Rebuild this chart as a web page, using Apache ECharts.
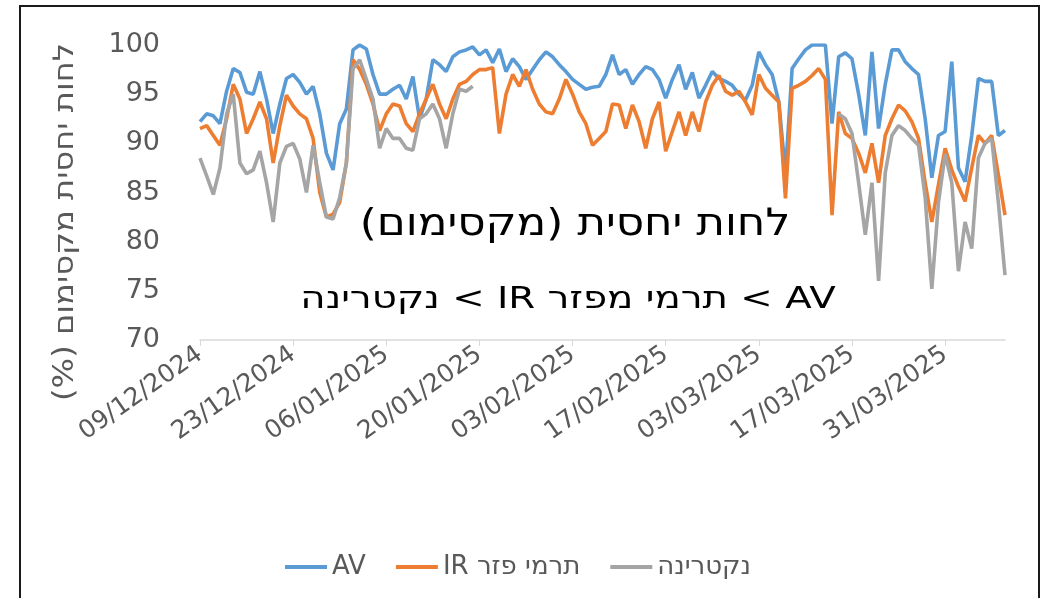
<!DOCTYPE html>
<html>
<head>
<meta charset="utf-8">
<script src="https://cdn.jsdelivr.net/npm/echarts@6/dist/echarts.min.js"></script>
<style>
html,body{margin:0;padding:0;background:#fff;}
#c{width:1046px;height:598px;}
</style>
</head>
<body>
<div id="c" dir="rtl"></div>
<script>
// x categories: daily dates from 09/12/2024, 122 days
const startDate = [2024, 12, 9];
const dayCount = 122;
const yTicks = [70, 75, 80, 85, 90, 95, 100];
const seriesNames = ['AV', 'תרמי פזר IR', 'נקטרינה'];
const chartTitle = 'לחות יחסית (מקסימום)';
const chartSubtitle = 'AV > תרמי מפזר IR > נקטרינה';
const yAxisName = 'לחות יחסית מקסימום (%)';

const avValues = [
  92.2, 93, 92.8, 92, 95.3, 97.6, 97.2, 95.2, 95, 97.3, 94.5, 91, 94, 96.6, 97, 96.2, 95, 95.8, 93, 89, 87.3, 92, 93.5, 99.5, 100, 99.6, 97, 95, 95, 95.5,
  95.9, 94.5, 96.8, 92.5, 94.5, 98.5, 98, 97.3, 98.8, 99.3, 99.5, 99.8, 99, 99.5, 98.2, 99.6, 97.3, 98.6, 97.8, 96.5, 97.5, 98.5, 99.3, 98.8, 98, 97.3, 96.5, 96, 95.5, 95.7, 95.8,
  97, 99, 97, 97.5, 96, 97, 97.8, 97.5, 96.5, 94.6, 96.5, 98, 95.5, 97.2, 94.6, 95.9, 97.3, 96.6, 96.3, 95.9, 95, 94.4, 95.9, 99.3, 98, 97, 94.2, 87, 97.6, 98.6, 99.5,
  100, 100, 100, 92, 98.8, 99.2, 98.6, 95, 90.8, 99.3, 91.5, 96, 99.5, 99.5, 98.3, 97.6, 97, 92.5, 86.5, 90.8, 91.2, 98.3, 87.5, 86.1, 90.8, 96.6, 96.3, 96.3, 90.8, 91.3
];
const irValues = [
  91.5, 91.8, 90.8, 89.8, 92.5, 96, 94.5, 91, 92.5, 94.2, 92.5, 88, 91.8, 94.9, 93.8, 93, 92.5, 90.5, 85, 82.5, 82.8, 84, 88, 98.5, 97.5, 96, 94, 91.3, 93, 94,
  93.8, 92, 91.2, 93, 94.5, 96, 94, 92.5, 94.5, 96, 96.3, 97, 97.5, 97.5, 97.7, 91, 95, 97, 95.8, 97.5, 95.5, 94, 93.2, 93, 94.5, 96.5, 95, 93.2, 92, 89.8, 90.5,
  91.2, 94, 93.9, 91.5, 93.9, 92.2, 89.5, 92.5, 94.2, 89.2, 91.2, 93.2, 90.8, 93.2, 91.2, 94.2, 95.9, 96.9, 95.3, 94.9, 95.3, 94.2, 92.9, 97, 95.6, 94.9, 94.2, 84.4, 95.6, 95.9, 96.3,
  96.9, 97.6, 96.5, 82.7, 93.2, 91, 90.5, 89, 87, 90, 86, 90.8, 92.5, 93.9, 93.3, 92.2, 90.5, 86, 82, 85.8, 89.5, 87.3, 85.6, 84.1, 87.5, 90.8, 90, 90.8, 86.8, 82.7
];
const nectarineValues = [
  88.5, 86.7, 84.8, 87.5, 93, 95, 88, 86.9, 87.3, 89.2, 86, 82, 88, 89.7, 90, 88.4, 85, 89.8, 86, 82.5, 82.3, 84.5, 88, 97.6, 98.5, 96.5, 94.5, 89.5, 91.5, 90.5,
  90.5, 89.5, 89.3, 92.5, 93, 94, 92.5, 89.5, 93, 95.5, 95.3, 95.8,
  null, null, null, null, null, null, null, null, null, null, null, null, null, null, null, null, null, null,
  null, null, null, null, null, null, null, null, null, null, null, null, null, null, null, null, null, null,
  null, null, null, null, null, null, null, null, null, null, null, null, null, null, null, null, null, null,
  93, 92.5, 91, 86, 80.7, 86, 76, 87, 90.8, 91.8, 91.3, 90.5, 89.8, 84.5, 75.2, 84, 88.9, 86, 77, 82, 79.3, 88.5, 90, 90.5, 84, 76.6
];

function pad(n){ return (n < 10 ? '0' : '') + n; }
const categories = [];
(function(){
  const d0 = new Date(Date.UTC(startDate[0], startDate[1]-1, startDate[2]));
  for (let i = 0; i < dayCount; i++) {
    const d = new Date(d0.getTime() + i*86400000);
    categories.push(pad(d.getUTCDate()) + '/' + pad(d.getUTCMonth()+1) + '/' + d.getUTCFullYear());
  }
})();

const FONT = 'DejaVu Sans';
const chart = echarts.init(document.getElementById('c'), null, {renderer: 'canvas'});
const mk = (name, data, color) => ({
  name: name, type: 'line', data: data, showSymbol: false, symbol: 'none',
  lineStyle: {color: color, width: 3.6}, itemStyle: {color: color},
  connectNulls: false, animation: false
});
chart.setOption({
  animation: false,
  backgroundColor: '#ffffff',
  grid: {left: 200, top: 45, width: 805, height: 295, containLabel: false},
  xAxis: {
    type: 'category', data: categories, boundaryGap: false,
    axisLine: {show: true, lineStyle: {color: '#d9d9d9', width: 1.5}},
    axisTick: {show: true, interval: 13, length: 6, lineStyle: {color: '#d9d9d9'}},
    axisLabel: {interval: 13, rotate: 35, margin: 12, color: '#595959', fontSize: 25, fontFamily: FONT},
    splitLine: {show: false}
  },
  yAxis: {
    type: 'value', min: yTicks[0], max: yTicks[yTicks.length-1], interval: 5,
    axisLine: {show: false}, axisTick: {show: false}, splitLine: {show: false},
    axisLabel: {color: '#595959', fontSize: 27, fontFamily: FONT, margin: 40}
  },
  legend: {
    left: 280, top: 549, itemWidth: 42, itemHeight: 4, itemGap: 30, icon: 'rect',
    textStyle: {color: '#595959', fontSize: 26, fontFamily: FONT},
    data: seriesNames
  },
  graphic: [
    {type: 'rect', silent: true, shape: {x: 20, y: 6, width: 1019, height: 600},
     style: {fill: 'none', stroke: '#1a1a1a', lineWidth: 2}},
    {type: 'text', silent: true, x: 66, y: 222, rotation: Math.PI / 2, scaleX: 1.15,
     style: {text: yAxisName, x: 0, y: 0, textAlign: 'center', textVerticalAlign: 'middle', fill: '#595959', font: '28px "DejaVu Sans"'}},
    {type: 'text', silent: true, x: 575, y: 225, scaleX: 1.15,
     style: {text: chartTitle, x: 0, y: 0, textAlign: 'center', textVerticalAlign: 'middle', fill: '#000', font: '38px "DejaVu Sans"'}},
    {type: 'text', silent: true, x: 568, y: 300, scaleX: 1.25,
     style: {text: chartSubtitle, x: 0, y: 0, textAlign: 'center', textVerticalAlign: 'middle', fill: '#000', font: '31px "DejaVu Sans"'}}
  ],
  series: [
    mk(seriesNames[0], avValues, '#5B9BD5'),
    mk(seriesNames[1], irValues, '#ED7D31'),
    mk(seriesNames[2], nectarineValues, '#A5A5A5')
  ]
});
</script>
</body>
</html>
